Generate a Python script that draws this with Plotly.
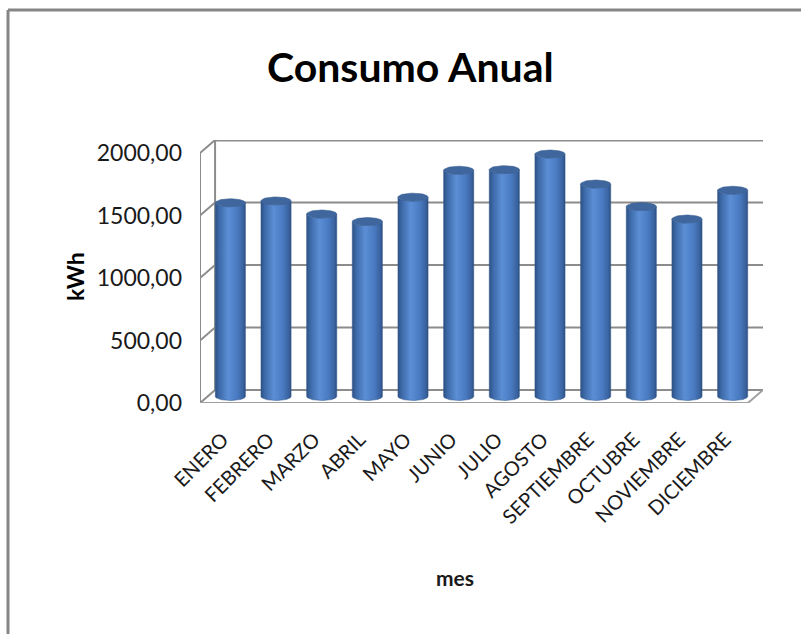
import numpy as np
import plotly.graph_objects as go

# Monthly consumption (kWh)
meses = ["ENERO", "FEBRERO", "MARZO", "ABRIL", "MAYO", "JUNIO",
         "JULIO", "AGOSTO", "SEPTIEMBRE", "OCTUBRE", "NOVIEMBRE", "DICIEMBRE"]
consumo = [1550, 1565, 1460, 1400, 1595, 1810, 1815, 1940, 1700, 1520, 1420, 1650]
y_ticks = [0, 500, 1000, 1500, 2000]

W, H = 801, 634

# Pseudo-3D frame: the back wall is offset from the front plane by DX (categories) and DY (kWh)
DX = 0.33
DY = 104
RX = 0.33          # cylinder radius in category units
RY = 32            # cylinder ellipse half-height in kWh units

x_lo, x_hi = -0.5, len(meses) - 0.5 + DX
y_lo, y_hi = 0, 2000 + DY

fig = go.Figure()

body_scale = [[0.0, "#2D5184"], [0.12, "#3C68A6"], [0.42, "#5B8ED5"],
              [0.72, "#4A7BC2"], [0.92, "#3A63A0"], [1.0, "#2C4F80"]]

for i, (mes, v) in enumerate(zip(meses, consumo)):
    cx = i + DX / 2
    base = DY / 2
    top = v + DY / 2
    t_top = np.linspace(np.pi, 2 * np.pi, 40)
    t_bot = np.linspace(0, -np.pi, 40)
    xs = np.concatenate([[cx - RX], cx + RX * np.cos(t_top), [cx + RX],
                         cx + RX * np.cos(t_bot)])
    ys = np.concatenate([[base], top + RY * np.sin(t_top), [base],
                         base + RY * np.sin(t_bot)])
    fig.add_trace(go.Scatter(
        x=xs, y=ys, mode="lines", fill="toself",
        fillgradient=dict(type="horizontal", colorscale=body_scale),
        line=dict(width=0.5, color="#34598D"),
        hoverinfo="text", text=f"{mes}: {v:.2f}".replace(".", ","),
        showlegend=False))
    t = np.linspace(0, 2 * np.pi, 60)
    fig.add_trace(go.Scatter(
        x=cx + RX * np.cos(t), y=top + RY * np.sin(t), mode="lines",
        fill="toself", fillcolor="#3F679E",
        line=dict(width=0.5, color="#35598C"),
        hoverinfo="skip", showlegend=False))

shapes = []
grid = dict(color="#8C8C8C", width=2)
# back wall gridlines and side-wall diagonals
for v in y_ticks:
    shapes.append(dict(type="line", xref="x", yref="y", layer="below",
                       x0=-0.5 + DX, x1=x_hi, y0=v + DY, y1=v + DY,
                       line=dict(color="#8C8C8C", width=3 if v == 2000 else 2)))
    shapes.append(dict(type="line", xref="x", yref="y", layer="below",
                       x0=-0.5, x1=-0.5 + DX, y0=v, y1=v + DY, line=grid))
# back wall left edge
shapes.append(dict(type="line", xref="x", yref="y", layer="below",
                   x0=-0.5 + DX, x1=-0.5 + DX, y0=DY, y1=2000 + DY, line=grid))
# side wall front edge
shapes.append(dict(type="line", xref="x", yref="y", layer="below",
                   x0=-0.5, x1=-0.5, y0=0, y1=2000, line=grid))
# floor front and right edges
shapes.append(dict(type="line", xref="x", yref="y", layer="below",
                   x0=-0.5, x1=len(meses) - 0.5, y0=0, y1=0,
                   line=dict(color="#A0A0A0", width=2)))
shapes.append(dict(type="line", xref="x", yref="y", layer="below",
                   x0=len(meses) - 0.5, x1=x_hi, y0=0, y1=DY,
                   line=dict(color="#A0A0A0", width=2)))
# chart border (left and top)
shapes.append(dict(type="line", xref="paper", yref="paper",
                   x0=8 / W, x1=8 / W, y0=0, y1=1 - 10 / H,
                   line=dict(color="#858585", width=3)))
shapes.append(dict(type="line", xref="paper", yref="paper",
                   x0=8 / W, x1=1, y0=1 - 10 / H, y1=1 - 10 / H,
                   line=dict(color="#858585", width=3)))

font = "Lato, 'Open Sans', sans-serif"

fig.update_layout(
    width=W, height=H,
    margin=dict(l=0, r=0, t=0, b=0),
    paper_bgcolor="white", plot_bgcolor="rgba(0,0,0,0)",
    separators=",.",
    font=dict(family=font, color="#1A1A1A"),
    shapes=shapes,
    xaxis=dict(domain=[200 / W, 763 / W], range=[x_lo, x_hi],
               tickvals=list(range(len(meses))), ticktext=meses,
               tickangle=-45, ticklabelstandoff=20,
               tickfont=dict(size=20, family=font, color="#1A1A1A"),
               showgrid=False, zeroline=False, showline=False, ticks="",
               automargin=False, fixedrange=True),
    yaxis=dict(domain=[1 - 403 / H, 1 - 140 / H], range=[y_lo, y_hi],
               tickvals=y_ticks, tickformat=".2f", ticklabelstandoff=17,
               tickfont=dict(size=23, family=font, color="#1A1A1A"),
               showgrid=False, zeroline=False, showline=False, ticks="",
               automargin=False, fixedrange=True),
    annotations=[
        dict(text="<b>Consumo Anual</b>", xref="paper", yref="paper",
             x=410 / W, y=1 - 66 / H, xanchor="center", yanchor="middle",
             showarrow=False,
             font=dict(size=41, family=font, color="black")),
        dict(text="<b>kWh</b>", xref="paper", yref="paper",
             x=75 / W, y=1 - 277 / H, xanchor="center", yanchor="middle",
             showarrow=False, textangle=-90,
             font=dict(size=23, family=font, color="black")),
        dict(text="<b>mes</b>", xref="paper", yref="paper",
             x=455 / W, y=1 - 577 / H, xanchor="center", yanchor="middle",
             showarrow=False,
             font=dict(size=21, family=font, color="#1A1A1A")),
    ],
)

fig.write_html("out.html")
